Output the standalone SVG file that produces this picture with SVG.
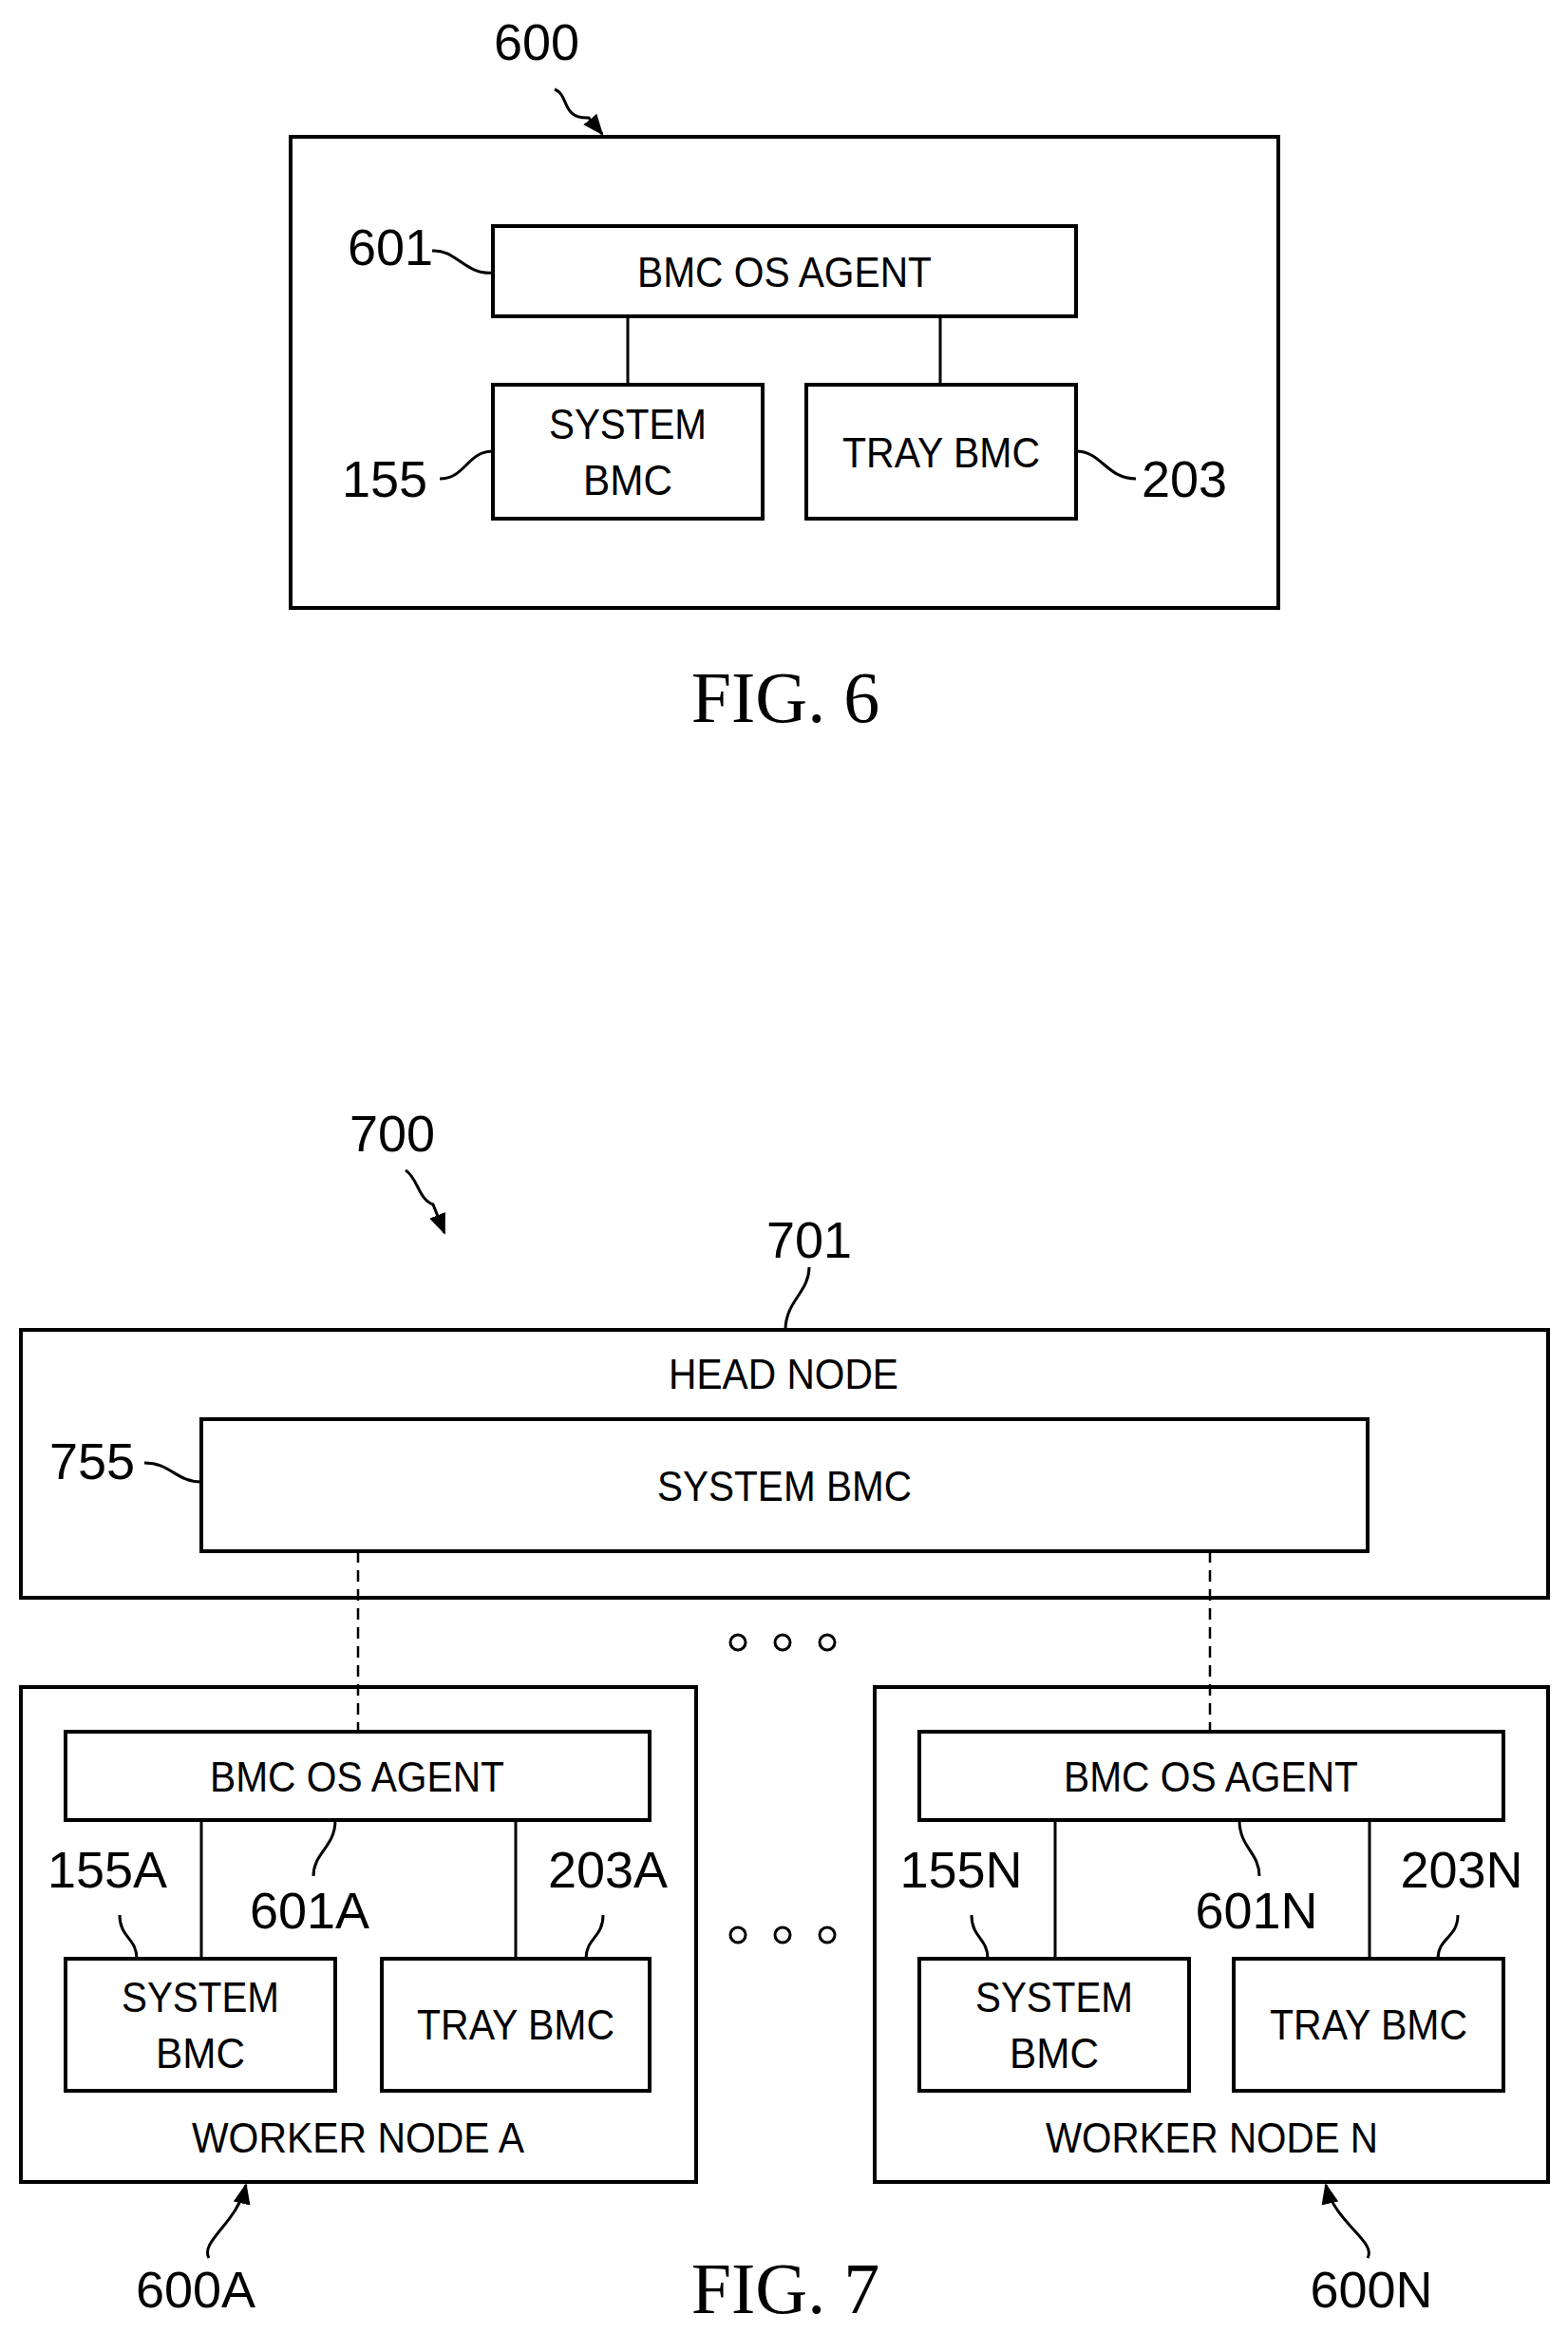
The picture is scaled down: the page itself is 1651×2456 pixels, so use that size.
<svg xmlns="http://www.w3.org/2000/svg" width="1651" height="2456" viewBox="0 0 1651 2456">
<style>
rect{fill:#fff;stroke:#000;stroke-width:4}
.c{fill:none;stroke:#000;stroke-width:3}
.d{fill:none;stroke:#000;stroke-width:2.5;stroke-dasharray:12 8}
text{font-family:"Liberation Sans",Arial,sans-serif;fill:#000;text-anchor:middle}
.t{font-size:44px}
.l{font-size:54px}
.f{font-family:"Liberation Serif","Times New Roman",serif;font-size:76px}
.dot{fill:#fff;stroke:#000;stroke-width:3}
</style>
<defs><marker id="a" markerWidth="10" markerHeight="10" refX="9" refY="5" orient="auto" markerUnits="userSpaceOnUse" viewBox="0 0 10 10"><path d="M0,0 L10,5 L0,10 z"/></marker>
<marker id="b" markerWidth="22" markerHeight="22" refX="20" refY="11" orient="auto" markerUnits="userSpaceOnUse" viewBox="0 0 22 22"><path d="M0,2 L22,11 L0,20 z"/></marker></defs>
<g id="fig6">
<rect x="306" y="144" width="1040" height="496"/>
<text class="l" x="565" y="63">600</text>
<text class="f" x="827" y="760">FIG. 6</text>
</g>
<g id="n601"><rect x="519" y="238" width="614" height="95"/><text class="t" x="826" y="302" textLength="310" lengthAdjust="spacingAndGlyphs">BMC OS AGENT</text><text class="l" x="411" y="279">601</text></g>
<g id="n155"><rect x="519" y="405" width="284" height="141"/><text class="t" x="661" y="462" textLength="166" lengthAdjust="spacingAndGlyphs">SYSTEM</text><text class="t" x="661" y="521" textLength="94" lengthAdjust="spacingAndGlyphs">BMC</text><text class="l" x="405" y="523">155</text></g>
<g id="n203"><rect x="849" y="405" width="284" height="141"/><text class="t" x="991" y="492" textLength="208" lengthAdjust="spacingAndGlyphs">TRAY BMC</text><text class="l" x="1247" y="523">203</text></g>

<g id="fig7">
<text class="l" x="413" y="1212">700</text>
<text class="f" x="827" y="2435">FIG. 7</text>
<circle class="dot" cx="777" cy="1729" r="8"/><circle class="dot" cx="824" cy="1729" r="8"/><circle class="dot" cx="871" cy="1729" r="8"/>
<circle class="dot" cx="777" cy="2037" r="8"/><circle class="dot" cx="824" cy="2037" r="8"/><circle class="dot" cx="871" cy="2037" r="8"/>
</g>
<g id="head"><rect x="22" y="1400" width="1608" height="282"/><text class="t" x="825" y="1462" textLength="242" lengthAdjust="spacingAndGlyphs">HEAD NODE</text><text class="l" x="852" y="1324">701</text></g>
<g id="n755"><rect x="212" y="1494" width="1228" height="139"/><text class="t" x="826" y="1580" textLength="268" lengthAdjust="spacingAndGlyphs">SYSTEM BMC</text><text class="l" x="97" y="1557">755</text></g>

<g id="workerA"><rect x="22" y="1776" width="711" height="521"/><text class="t" x="377" y="2266" textLength="350" lengthAdjust="spacingAndGlyphs">WORKER NODE A</text><text class="l" x="206" y="2429">600A</text></g>
<g id="n601A"><rect x="69" y="1823" width="615" height="93"/><text class="t" x="376" y="1886" textLength="310" lengthAdjust="spacingAndGlyphs">BMC OS AGENT</text><text class="l" x="326" y="2030">601A</text></g>
<g id="n155A"><rect x="69" y="2062" width="284" height="139"/><text class="t" x="211" y="2118" textLength="166" lengthAdjust="spacingAndGlyphs">SYSTEM</text><text class="t" x="211" y="2177" textLength="94" lengthAdjust="spacingAndGlyphs">BMC</text><text class="l" x="113" y="1987">155A</text></g>
<g id="n203A"><rect x="402" y="2062" width="282" height="139"/><text class="t" x="543" y="2147" textLength="208" lengthAdjust="spacingAndGlyphs">TRAY BMC</text><text class="l" x="640" y="1987">203A</text></g>

<g id="workerN"><rect x="921" y="1776" width="709" height="521"/><text class="t" x="1276" y="2266" textLength="350" lengthAdjust="spacingAndGlyphs">WORKER NODE N</text><text class="l" x="1444" y="2429">600N</text></g>
<g id="n601N"><rect x="968" y="1823" width="615" height="93"/><text class="t" x="1275" y="1886" textLength="310" lengthAdjust="spacingAndGlyphs">BMC OS AGENT</text><text class="l" x="1323" y="2030">601N</text></g>
<g id="n155N"><rect x="968" y="2062" width="284" height="139"/><text class="t" x="1110" y="2118" textLength="166" lengthAdjust="spacingAndGlyphs">SYSTEM</text><text class="t" x="1110" y="2177" textLength="94" lengthAdjust="spacingAndGlyphs">BMC</text><text class="l" x="1012" y="1987">155N</text></g>
<g id="n203N"><rect x="1299" y="2062" width="284" height="139"/><text class="t" x="1441" y="2147" textLength="208" lengthAdjust="spacingAndGlyphs">TRAY BMC</text><text class="l" x="1539" y="1987">203N</text></g>

<g id="connectors">
<path class="c" d="M661,333V405M990,333V405"/>
<path class="c" d="M584,94 C600,100 590,125 620,124 L634,141" marker-end="url(#b)"/>
<path class="c" d="M455,264 C480,262 490,290 519,287"/>
<path class="c" d="M463,504 C490,504 492,475 519,475"/>
<path class="c" d="M1133,475 C1160,475 1165,504 1196,504"/>
<path class="c" d="M427,1232 C440,1240 440,1262 456,1268 L468,1298" marker-end="url(#b)"/>
<path class="c" d="M852,1334 C852,1360 827,1370 827,1400"/>
<path class="c" d="M152,1540 C180,1540 185,1560 212,1560"/>
<path class="d" d="M377,1633V1823M1274,1633V1823"/>
<path class="c" d="M212,1916V2062M543,1916V2062M1111,1916V2062M1442,1916V2062"/>
<path class="c" d="M126,2016 C126,2040 144,2040 144,2062"/>
<path class="c" d="M353,1916 C353,1945 330,1950 330,1975"/>
<path class="c" d="M635,2016 C635,2040 617,2040 617,2062"/>
<path class="c" d="M1023,2016 C1023,2040 1040,2040 1040,2062"/>
<path class="c" d="M1305,1916 C1305,1945 1326,1950 1326,1975"/>
<path class="c" d="M1535,2016 C1535,2040 1514,2040 1514,2062"/>
<path class="c" d="M220,2377 C210,2360 250,2340 259,2300" marker-end="url(#b)"/>
<path class="c" d="M1440,2377 C1450,2360 1405,2340 1396,2300" marker-end="url(#b)"/>
</g>
</svg>
